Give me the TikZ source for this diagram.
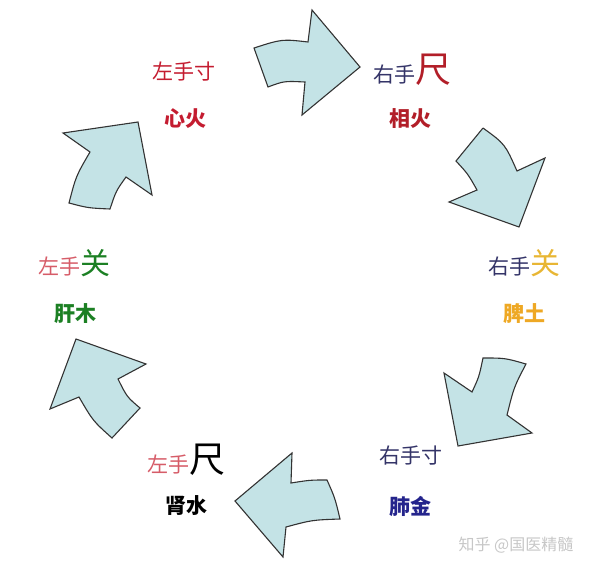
\documentclass[tikz,border=0pt]{standalone}
\usepackage{fontspec}
\newfontfamily\cjk{Noto Sans CJK SC}
\usetikzlibrary{calc}
\tikzset{>=latex}
\definecolor{arrfill}{RGB}{196,227,230}
\definecolor{cunred}{RGB}{196,28,48}
\definecolor{chired}{RGB}{178,30,40}
\definecolor{navy}{RGB}{52,52,104}
\definecolor{feiblue}{RGB}{36,36,140}
\definecolor{guanyel}{RGB}{232,182,52}
\definecolor{pigold}{RGB}{238,168,36}
\definecolor{zuopink}{RGB}{214,92,104}
\definecolor{mugreen}{RGB}{28,128,36}
\tikzset{
  bigarrow/.style={fill=arrfill,draw=black!80,line width=1.1pt,line join=miter},
  pulse/.style={font=\cjk\fontsize{21}{24}\selectfont,inner sep=0pt},
  organ/.style={font=\cjk\bfseries\fontsize{21}{24}\selectfont,inner sep=0pt},
}
\begin{document}
\begin{tikzpicture}[x=1pt,y=-1pt]
            \useasboundingbox (0,0) rectangle (595,568);
            % arrows, clockwise from the top
            \draw[bigarrow] (254,48) .. controls (282,39) .. (308,42) -- (312,10) -- (360,67)
              -- (302,115) -- (305,82) .. controls (284,81) .. (268,87) -- cycle;
            \draw[bigarrow] (483,128) -- (456,161) .. controls (468,174) .. (477,190) -- (449,202)
              -- (519,227) -- (545,158) -- (517,171) .. controls (505,144) .. (483,128);
            \draw[bigarrow] (483,358) .. controls (505,358) .. (526,364) .. controls (514,387) .. (507,415)
              -- (532,433) -- (458,446) -- (444,373) -- (472,392) .. controls (479,377) .. cycle;
            \draw[bigarrow] (327,480) .. controls (335,498) .. (340,519) .. controls (312,520) .. (286,527)
              -- (283,557) -- (235,501) -- (292,453) -- (291,483) .. controls (310,480) .. cycle;
            \draw[bigarrow] (112,438) .. controls (93,421) .. (79,397) -- (50,409) -- (76,339)
              -- (146,364) -- (118,379) .. controls (127,397) .. (140,408) -- cycle;
            \draw[bigarrow] (110,209) .. controls (88,208) .. (69,203) .. controls (76,176) .. (90,152)
              -- (63,133) -- (138,122) -- (152,195) -- (126,177) .. controls (116,191) .. cycle;
            % labels
            \node[pulse,text=cunred] (a) at (184,72) {左手寸};
            \node[organ,text=cunred] (a2) at (185,119) {心火};
            \node[pulse,anchor=base] (b) at (412,82) {\color{navy}右手\fontsize{36}{40}\selectfont\color{chired}尺};
            \node[organ,text=chired] (b2) at (410,119) {相火};
            \node[pulse,anchor=base] (c) at (524,274) {\color{navy}右手\fontsize{30}{34}\selectfont\color{guanyel}关};
            \node[organ,text=pigold] (c2) at (524,314) {脾土};
            \node[pulse,text=navy] (d) at (411,456) {右手寸};
            \node[organ,text=feiblue] (d2) at (410,506) {肺金};
            \node[pulse,anchor=base] (e) at (186,472) {\color{zuopink}左手\fontsize{36}{40}\selectfont\color{black}尺};
            \node[organ,text=black] (e2) at (186,506) {肾水};
            \node[pulse,anchor=base] (f) at (74,274) {\color{zuopink}左手\fontsize{30}{34}\selectfont\color{mugreen}关};
            \node[organ,text=mugreen] (f2) at (75,314) {肝木};
            \node[font=\cjk\fontsize{16}{18}\selectfont,text=black!22,inner sep=0pt] (w) at (516,545) {知乎 @国医精髓};
        \end{tikzpicture}
\end{document}
